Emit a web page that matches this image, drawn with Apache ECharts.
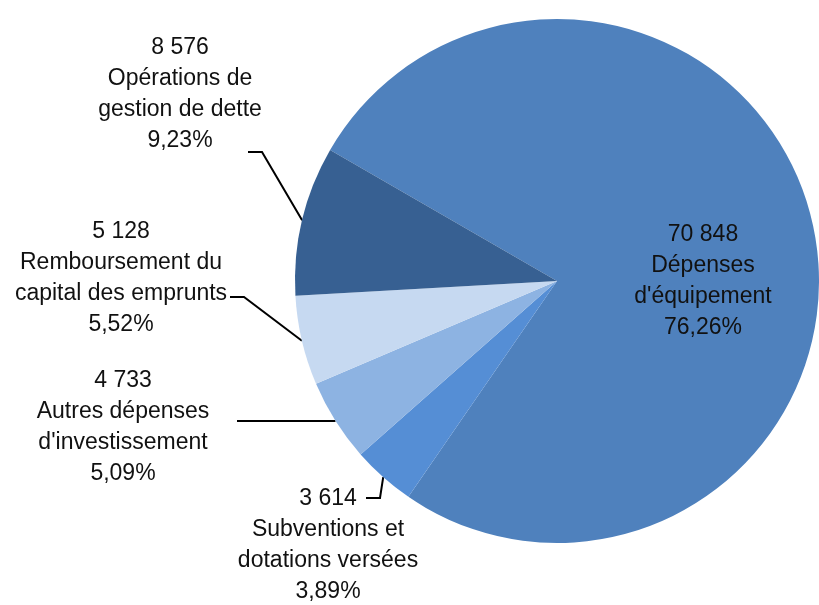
<!DOCTYPE html>
<html>
<head>
<meta charset="utf-8">
<script src="https://cdn.jsdelivr.net/npm/echarts@6/dist/echarts.min.js"></script>
<style>
  html, body { margin: 0; padding: 0; background: #fff; }
  #chart { width: 819px; height: 605px; }
</style>
</head>
<body>
<div id="chart"></div>
<script>
// Données (ordre horaire à partir de 150°)
const categories = [
  "Dépenses\nd'équipement",
  'Subventions et\ndotations versées',
  "Autres dépenses\nd'investissement",
  'Remboursement du\ncapital des emprunts',
  'Opérations de\ngestion de dette'
];
const values = [70848, 3614, 4733, 5128, 8576];
const colors = ['#4f81bd', '#558ed5', '#8db3e2', '#c6d9f1', '#376092'];

// position des étiquettes (centre du bloc) et bout du trait de rappel
const labelPos = [
  { x: 703, y: 281 },
  { x: 328, y: 545, end: [366, 498] },
  { x: 123, y: 427, end: [237, 421] },
  { x: 121, y: 278, end: [230, 297] },
  { x: 180, y: 94, end: [248, 152] }
];

const total = values.reduce((a, b) => a + b, 0);

function fmtNum(v) {
  return String(v).replace(/\B(?=(\d{3})+(?!\d))/g, ' ');
}

const chart = echarts.init(document.getElementById('chart'));

chart.setOption({
  animation: false,
  backgroundColor: '#fff',
  series: [{
    type: 'pie',
    center: [557, 281],
    radius: 262,
    startAngle: 150,
    clockwise: true,
    avoidLabelOverlap: false,
    data: values.map((v, i) => ({
      name: categories[i],
      value: v,
      itemStyle: { color: colors[i] },
      labelLine: { show: !!labelPos[i].end }
    })),
    label: {
      show: true,
      position: 'outside',
      color: '#111',
      fontFamily: 'Liberation Sans',
      fontSize: 23,
      lineHeight: 31,
      align: 'center',
      formatter: (p) => {
        const pct = (p.value / total * 100).toFixed(2).replace('.', ',');
        return fmtNum(p.value) + '\n' + p.name + '\n' + pct + '%';
      }
    },
    labelLine: {
      show: true,
      length: 10,
      length2: 10,
      lineStyle: { color: '#000', width: 2 }
    },
    labelLayout: (params) => {
      const lp = labelPos[params.dataIndex];
      const out = { x: lp.x, y: lp.y, align: 'center', verticalAlign: 'middle' };
      if (lp.end && params.labelLinePoints) {
        const p0 = params.labelLinePoints[0];
        const elbow = [lp.end[0] + (p0[0] > lp.end[0] ? 14 : -14), lp.end[1]];
        out.labelLinePoints = [p0, elbow, lp.end];
      }
      return out;
    }
  }]
});
</script>
</body>
</html>
